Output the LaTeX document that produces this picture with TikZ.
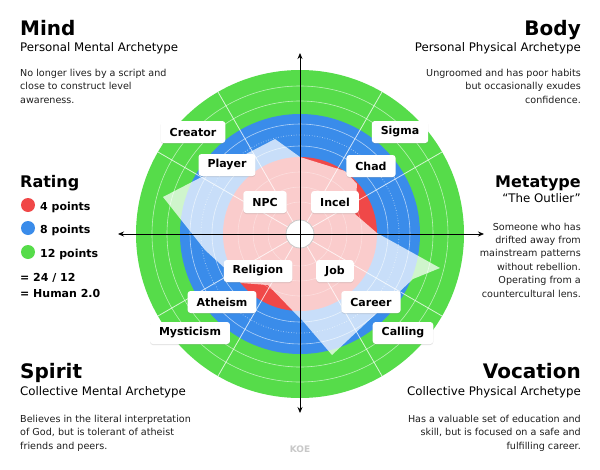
\documentclass[tikz,border=0pt]{standalone}
\usepackage{fontspec}
\setmainfont{DejaVu Sans}
\usetikzlibrary{arrows.meta,shadows}

\definecolor{ringgreen}{RGB}{86,220,74}
\definecolor{ringblue}{RGB}{58,140,234}
\definecolor{ringred}{RGB}{240,72,72}
\definecolor{inktext}{RGB}{30,30,30}
\definecolor{marklight}{RGB}{200,200,200}

\tikzset{
  tag/.style={fill=white, rounded corners=3pt, inner xsep=9pt, inner ysep=0pt,
    minimum height=22pt, font=\fontsize{11}{13}\selectfont\bfseries,
    drop shadow={opacity=0.22, shadow xshift=0pt, shadow yshift=-1pt}},
  headline/.style={inner sep=0pt, font=\fontsize{20}{24}\selectfont\bfseries},
  subline/.style={inner sep=0pt, font=\fontsize{11.8}{14}\selectfont},
  blurb/.style={inner sep=0pt, text=inktext, font=\fontsize{9.6}{13.2}\selectfont},
  legend/.style={inner sep=0pt, font=\fontsize{11}{13}\selectfont\bfseries},
  spoke/.style={white, line width=0.8pt, opacity=0.75},
  hoop/.style={white, line width=0.6pt, opacity=0.6},
}

\begin{document}
\begin{tikzpicture}[x=1pt, y=-1pt]
\useasboundingbox (0,0) rectangle (600,469);
\fill[white] (0,0) rectangle (600,469);

\coordinate (ctr) at (300,234);

% rings
\fill[ringgreen] (ctr) circle (164pt);
\foreach \r in {133,148} \draw[hoop] (ctr) circle (\r pt);
\fill[ringblue] (ctr) circle (120pt);
\foreach \r in {88,110} \draw[hoop] (ctr) circle (\r pt);
\draw[hoop, dotted, line width=0.8pt] (ctr) circle (99pt);
\fill[ringred] (ctr) circle (77pt);
\foreach \r in {32,47,62} \draw[hoop, opacity=0.35] (ctr) circle (\r pt);

% spokes every 30 degrees
\foreach \a in {30,60,120,150,210,240,300,330}
  \draw[spoke] (ctr) ++(\a:14pt) -- ++(\a:150pt);

% rating shape
\fill[white, opacity=0.72] (163,197) -- (275,139) -- (300,157) -- (345,171)
  -- (357,184) -- (355,214) -- (377,233) -- (440,268) -- (413,279)
  -- (332,355) -- (302,320) -- (292,310) -- (268,285) -- (241,283)
  -- (205,250) -- cycle;

% hub
\node[circle, fill=white, draw=marklight, line width=0.8pt, minimum size=28pt, inner sep=0pt] (hub) at (ctr) {};

% axes
\coordinate (west) at (118,234);
\coordinate (east) at (484,234);
\coordinate (north) at (300,53);
\coordinate (south) at (300,413);
\draw[line width=0.8pt, {Stealth[length=6pt,width=5pt]}-{Stealth[length=6pt,width=5pt]}] (west) -- (east);
\draw[line width=0.8pt, {Stealth[length=6pt,width=5pt]}-{Stealth[length=6pt,width=5pt]}] (north) -- (south);

% archetype tags
\node[tag] (creator) at (193,132) {Creator};
\node[tag] (sigma) at (400,132) {Sigma};
\node[tag] (player) at (227,165) {Player};
\node[tag] (chad) at (371,166) {Chad};
\node[tag] (npc) at (265,202) {NPC};
\node[tag] (incel) at (335,202) {Incel};
\node[tag] (religion) at (258,271) {Religion};
\node[tag] (job) at (335,271) {Job};
\node[tag] (atheism) at (222,302) {Atheism};
\node[tag] (career) at (371,302) {Career};
\node[tag] (mysticism) at (190,333) {Mysticism};
\node[tag] (calling) at (403,333) {Calling};

% Mind (base = last line)
\node[headline, anchor=base west] (mind) at (20,35) {Mind};
\node[subline, anchor=base west] (mindsub) at (20,51) {Personal Mental Archetype};
\node[blurb, anchor=base west, align=left] (mindtxt) at (20,103)
  {No longer lives by a script and\\close to construct level\\awareness.};

% Body
\node[headline, anchor=base east] (body) at (581,35) {Body};
\node[subline, anchor=base east] (bodysub) at (581,51) {Personal Physical Archetype};
\node[blurb, anchor=base east, align=right] (bodytxt) at (581,103)
  {Ungroomed and has poor habits\\but occasionally exudes\\confidence.};

% Rating
\node[headline, font=\fontsize{16}{19}\selectfont\bfseries, anchor=base west] (rating) at (20,187) {Rating};
\fill[ringred] (28,205) circle (7pt);
\fill[ringblue] (28,228) circle (7pt);
\fill[ringgreen] (28,252) circle (7pt);
\node[legend, anchor=base west] (four) at (40,210) {4 points};
\node[legend, anchor=base west] (eight) at (40,233) {8 points};
\node[legend, anchor=base west] (twelve) at (40,257) {12 points};
\node[legend, anchor=base west] (sum) at (20,281) {= 24 / 12};
\node[legend, anchor=base west] (human) at (20,297) {= Human 2.0};

% Metatype
\node[headline, font=\fontsize{16}{19}\selectfont\bfseries, anchor=base east] (meta) at (581,187) {Metatype};
\node[subline, anchor=base east] (metasub) at (581,202) {“The Outlier”};
\node[blurb, anchor=base east, align=right, font=\fontsize{9.6}{13.4}\selectfont] (metatxt) at (581,297)
  {Someone who has\\drifted away from\\mainstream patterns\\without rebellion.\\Operating from a\\countercultural lens.};

% Spirit
\node[headline, anchor=base west] (spirit) at (20,378) {Spirit};
\node[subline, anchor=base west] (spiritsub) at (20,395) {Collective Mental Archetype};
\node[blurb, anchor=base west, align=left] (spirittxt) at (20,449)
  {Believes in the literal interpretation\\of God, but is tolerant of atheist\\friends and peers.};

% Vocation
\node[headline, anchor=base east] (vocation) at (581,378) {Vocation};
\node[subline, anchor=base east] (vocationsub) at (581,395) {Collective Physical Archetype};
\node[blurb, anchor=base east, align=right] (vocationtxt) at (581,449)
  {Has a valuable set of education and\\skill, but is focused on a safe and\\fulfilling career.};

% mark
\node[inner sep=0pt, text=marklight, font=\fontsize{9}{11}\selectfont\bfseries] (koe) at (300,449) {KOE};

\end{tikzpicture}
\end{document}
